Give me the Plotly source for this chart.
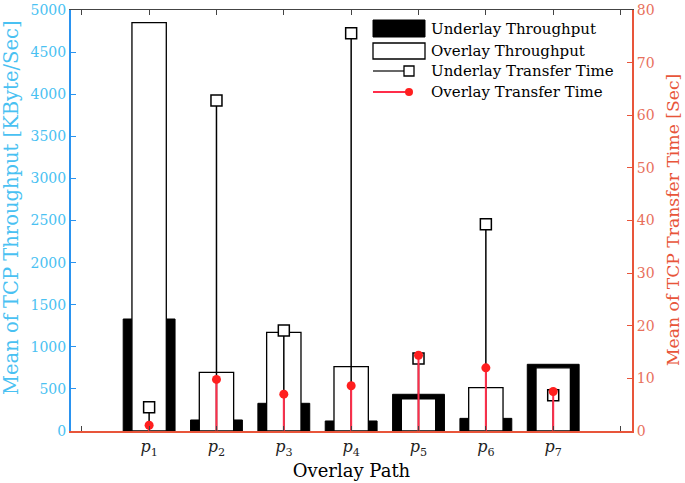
import plotly.graph_objects as go

# Dados
paths = [1, 2, 3, 4, 5, 6, 7]
path_labels = ['<i>p</i><sub>%d</sub>' % i for i in paths]
underlay_throughput = [1330, 131, 329, 119, 436, 150, 792]
overlay_throughput = [4850, 697, 1172, 764, 383, 514, 750]
underlay_time = [4.5, 62.8, 19.1, 75.6, 13.8, 39.3, 6.8]
overlay_time = [1.1, 9.8, 7.0, 8.6, 14.4, 12.0, 7.5]
legend_names = ['Underlay Throughput', 'Overlay Throughput',
                'Underlay Transfer Time', 'Overlay Transfer Time']

BLUE_LINE = '#2a93f0'
BLUE_TXT = '#49c1f2'
RED_LINE = '#e8553a'
RED_TXT = '#e8705c'
STEM_RED = '#ff2d4a'
DOT_RED = '#ff1f1f'
SERIF = 'DejaVu Serif, Liberation Serif, serif'

# área do gráfico em pixels
L, R, T, B = 71, 632, 10, 431
W, H = 685, 483


def px(x):
    return (x - L) / (R - L)


def py(y):
    return (B - y) / (B - T)


fig = go.Figure()

# Barras de throughput
fig.add_trace(go.Bar(x=paths, y=underlay_throughput, width=0.77,
                     marker=dict(color='black', line=dict(color='black', width=1)),
                     name=legend_names[0]))
fig.add_trace(go.Bar(x=paths, y=overlay_throughput, width=0.51,
                     marker=dict(color='white', line=dict(color='black', width=1.3)),
                     name=legend_names[1]))

# Hastes de tempo de transferência (eixo direito)
fig.add_trace(go.Scatter(x=paths, y=underlay_time, yaxis='y2', mode='markers',
                         marker=dict(symbol='square', size=11, color='white',
                                     line=dict(color='black', width=1.5)),
                         error_y=dict(type='data', symmetric=False, array=[0] * 7,
                                      arrayminus=underlay_time, width=0,
                                      thickness=1.5, color='black'),
                         name=legend_names[2]))
fig.add_trace(go.Scatter(x=paths, y=overlay_time, yaxis='y2', mode='markers',
                         marker=dict(symbol='circle', size=9, color=DOT_RED),
                         error_y=dict(type='data', symmetric=False, array=[0] * 7,
                                      arrayminus=overlay_time, width=0,
                                      thickness=2, color=STEM_RED),
                         name=legend_names[3]))

# traço fantasma para ativar o eixo x superior
fig.add_trace(go.Scatter(x=[None], y=[None], xaxis='x2', showlegend=False))

fig.update_layout(
    width=W, height=H,
    margin=dict(l=L, r=W - R, t=T, b=H - B),
    plot_bgcolor='white', paper_bgcolor='white',
    barmode='overlay',
    font=dict(family=SERIF, color='black'),
    showlegend=False,
    xaxis=dict(range=[-0.16, 8.17], tickvals=list(range(9)),
               ticktext=[''] + path_labels + [''],
               tickfont=dict(size=16, family=SERIF, color='#222'),
               ticks='inside', ticklen=5, tickcolor='#444',
               showline=True, linecolor=RED_LINE, linewidth=2,
               showgrid=False, zeroline=False, automargin=False,
               title=dict(text='Overlay Path', font=dict(size=18, family=SERIF), standoff=7)),
    xaxis2=dict(range=[-0.16, 8.17], overlaying='x', side='top',
                tickvals=list(range(9)), showticklabels=False,
                ticks='inside', ticklen=5, tickcolor='#444',
                showline=True, linecolor='#444', linewidth=1.2,
                showgrid=False, zeroline=False, automargin=False),
    yaxis=dict(range=[0, 5000], dtick=500,
               tickfont=dict(size=14, family=SERIF, color=BLUE_TXT),
               ticks='inside', ticklen=5, tickcolor=BLUE_LINE,
               showline=True, linecolor=BLUE_LINE, linewidth=2,
               showgrid=False, zeroline=False, automargin=False),
    yaxis2=dict(range=[0, 80], dtick=10, overlaying='y', side='right',
                tickfont=dict(size=14, family=SERIF, color=RED_TXT),
                ticks='inside', ticklen=5, tickcolor=RED_LINE,
                showline=True, linecolor=RED_LINE, linewidth=2,
                showgrid=False, zeroline=False, automargin=False),
)

# Títulos dos eixos y como anotações para posicionar igual ao original
fig.add_annotation(text='Mean of TCP Throughput [KByte/Sec]', textangle=-90,
                   xref='paper', yref='paper', x=px(11), y=py(208),
                   xanchor='center', yanchor='middle', showarrow=False,
                   font=dict(size=19.5, family=SERIF, color=BLUE_TXT))
fig.add_annotation(text='Mean of TCP Transfer Time [Sec]', textangle=-90,
                   xref='paper', yref='paper', x=px(673), y=py(220),
                   xanchor='center', yanchor='middle', showarrow=False,
                   font=dict(size=17.2, family=SERIF, color=RED_LINE))

# Legenda desenhada à mão (caixas largas como no original)
rows = [29, 51, 71, 92]
fig.add_shape(type='rect', xref='paper', yref='paper',
              x0=px(373), x1=px(425), y0=py(37), y1=py(20),
              fillcolor='black', line=dict(color='black', width=1))
fig.add_shape(type='rect', xref='paper', yref='paper',
              x0=px(373), x1=px(425), y0=py(59), y1=py(43),
              fillcolor='white', line=dict(color='black', width=1.3))
fig.add_shape(type='line', xref='paper', yref='paper',
              x0=px(373), x1=px(405), y0=py(rows[2]), y1=py(rows[2]),
              line=dict(color='black', width=1.2))
fig.add_shape(type='rect', xref='paper', yref='paper',
              x0=px(404), x1=px(414), y0=py(rows[2] + 5), y1=py(rows[2] - 5),
              fillcolor='white', line=dict(color='black', width=1.3))
fig.add_shape(type='line', xref='paper', yref='paper',
              x0=px(373), x1=px(409), y0=py(rows[3]), y1=py(rows[3]),
              line=dict(color=STEM_RED, width=2))
fig.add_shape(type='circle', xref='paper', yref='paper',
              x0=px(405), x1=px(413), y0=py(rows[3] + 4), y1=py(rows[3] - 4),
              fillcolor=DOT_RED, line=dict(color=DOT_RED, width=0))
for name, row in zip(legend_names, rows):
    fig.add_annotation(text=name, xref='paper', yref='paper',
                       x=px(429), y=py(row), xanchor='left', yanchor='middle',
                       showarrow=False, font=dict(size=15, family=SERIF, color='black'))

# sem margem do body, para a figura ocupar a janela toda
fig.write_html("out.html", config={'displayModeBar': False},
               post_script="document.body.style.margin='0';")
